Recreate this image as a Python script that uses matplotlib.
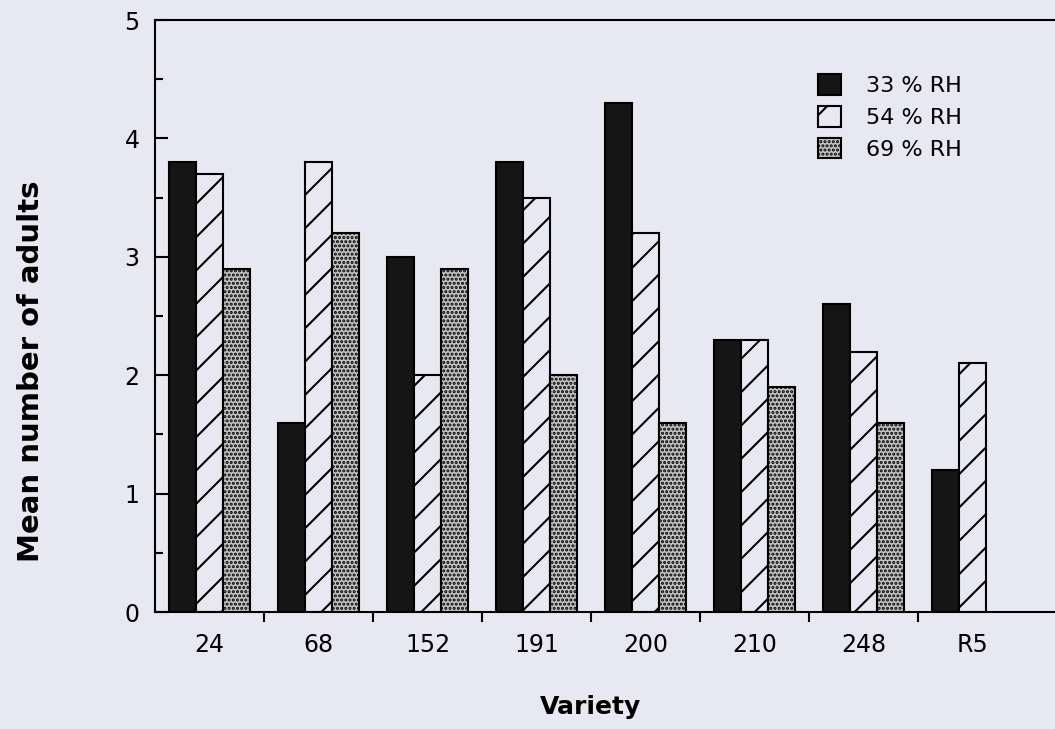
import numpy as np
import matplotlib
matplotlib.use('Agg')
import matplotlib.pyplot as plt

varieties = ['24', '68', '152', '191', '200', '210', '248', 'R5']
rh33 = [3.8, 1.6, 3.0, 3.8, 4.3, 2.3, 2.6, 1.2]
rh54 = [3.7, 3.8, 2.0, 3.5, 3.2, 2.3, 2.2, 2.1]
rh69 = [2.9, 3.2, 2.9, 2.0, 1.6, 1.9, 1.6, np.nan]
series_labels = ['33 % RH', '54 % RH', '69 % RH']

plt.rcParams['font.family'] = ['DejaVu Sans']
plt.rcParams['hatch.linewidth'] = 1.5
bg = '#e8e8f2'

fig = plt.figure(figsize=(10.55, 7.29), dpi=100, facecolor=bg)
ax = fig.add_axes([155 / 1055, 117 / 729, 1 - 155 / 1055, 592 / 729], facecolor=bg)

x = np.arange(len(varieties))
w = 0.245
ax.bar(x - w, rh33, w, color='#151515', edgecolor='black', linewidth=1.5, label=series_labels[0])
ax.bar(x, rh54, w, color=bg, edgecolor='black', linewidth=1.5, hatch='/', label=series_labels[1])
ax.bar(x + w, rh69, w, color='#c4c4c4', edgecolor='black', linewidth=1.5, hatch='....', label=series_labels[2])

ax.set_ylim(0, 5)
ax.set_xlim(-0.5, -0.5 + 900 / 109)

# y axis: ticks pointing inward
ax.set_yticks(range(6))
ax.set_yticks(np.arange(0.5, 5, 1), minor=True)
ax.tick_params(axis='y', which='major', direction='in', length=9, width=1.5, pad=11, labelsize=17)
ax.tick_params(axis='y', which='minor', direction='in', length=6, width=1.5)

# x axis: labels at group centres, tick marks between groups
ax.set_xticks(x, varieties)
ax.set_xticks(np.arange(0.5, 7, 1), minor=True)
ax.tick_params(axis='x', which='major', length=0, pad=15, labelsize=17)
ax.tick_params(axis='x', which='minor', direction='out', length=7, width=1.5)

for s in ['left', 'top', 'bottom']:
    ax.spines[s].set_linewidth(1.5)
ax.spines['right'].set_visible(False)

fig.text(31 / 1055, 1 - 371 / 729, 'Mean number of adults', rotation=90,
         ha='center', va='center', fontsize=21, fontweight='bold')
fig.text(591 / 1055, 1 - 707 / 729, 'Variety', ha='center', va='center',
         fontsize=18, fontweight='bold')

ax.legend(loc='upper left', bbox_to_anchor=(807 / 1055, 1 - 63 / 729),
          bbox_transform=fig.transFigure, frameon=False, fontsize=16,
          handlelength=1.05, handleheight=1.05, labelspacing=0.45, handletextpad=1.1,
          borderpad=0)

fig.savefig('out.png', dpi=100, facecolor=bg)
